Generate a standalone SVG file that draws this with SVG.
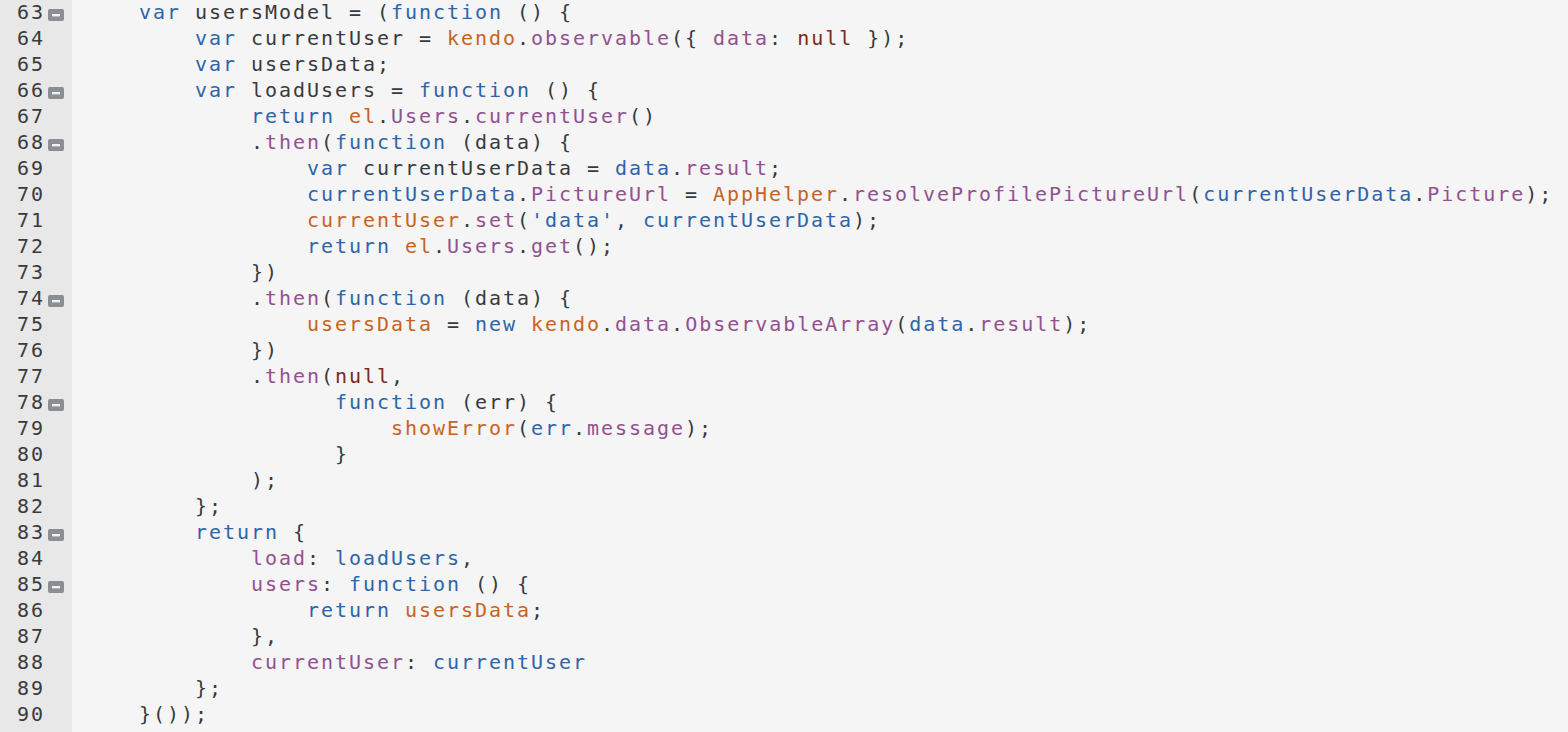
<svg xmlns="http://www.w3.org/2000/svg" width="1568" height="732" viewBox="0 0 1568 732">
<style>
text{font-family:"DejaVu Sans Mono","Liberation Mono",monospace;font-size:20px;letter-spacing:1.96px;fill:#353b40;white-space:pre}
.k{fill:#2e64a8}
.p{fill:#93508f}
.o{fill:#c8631f}
.n{fill:#7b2a1c}
.ln{fill:#3a3a3a}
.fold{fill:#8b8e92}
.minus{fill:#f0f0f0}
</style>
<defs>
<g id="foldicon"><rect class="fold" x="0" y="0" width="16" height="12" rx="2"/><rect class="minus" x="4" y="5" width="8" height="2.4"/></g>
</defs>
<rect x="0" y="0" width="1568" height="732" fill="#f5f5f5"/>
<g id="gutter">
<rect x="0" y="0" width="72" height="732" fill="#e8e8e8"/>
<text class="ln" x="17" y="18.5">63</text>
<text class="ln" x="17" y="44.5">64</text>
<text class="ln" x="17" y="70.5">65</text>
<text class="ln" x="17" y="96.5">66</text>
<text class="ln" x="17" y="122.5">67</text>
<text class="ln" x="17" y="148.5">68</text>
<text class="ln" x="17" y="174.5">69</text>
<text class="ln" x="17" y="200.5">70</text>
<text class="ln" x="17" y="226.5">71</text>
<text class="ln" x="17" y="252.5">72</text>
<text class="ln" x="17" y="278.5">73</text>
<text class="ln" x="17" y="304.5">74</text>
<text class="ln" x="17" y="330.5">75</text>
<text class="ln" x="17" y="356.5">76</text>
<text class="ln" x="17" y="382.5">77</text>
<text class="ln" x="17" y="408.5">78</text>
<text class="ln" x="17" y="434.5">79</text>
<text class="ln" x="17" y="460.5">80</text>
<text class="ln" x="17" y="486.5">81</text>
<text class="ln" x="17" y="512.5">82</text>
<text class="ln" x="17" y="538.5">83</text>
<text class="ln" x="17" y="564.5">84</text>
<text class="ln" x="17" y="590.5">85</text>
<text class="ln" x="17" y="616.5">86</text>
<text class="ln" x="17" y="642.5">87</text>
<text class="ln" x="17" y="668.5">88</text>
<text class="ln" x="17" y="694.5">89</text>
<text class="ln" x="17" y="720.5">90</text>
<use href="#foldicon" x="48" y="9"/>
<use href="#foldicon" x="48" y="87"/>
<use href="#foldicon" x="48" y="139"/>
<use href="#foldicon" x="48" y="295"/>
<use href="#foldicon" x="48" y="399"/>
<use href="#foldicon" x="48" y="529"/>
<use href="#foldicon" x="48" y="581"/>
</g>
<g id="code">
<text x="139" y="18.5"><tspan class="k">var</tspan> usersModel = (<tspan class="k">function</tspan> () {</text>
<text x="195" y="44.5"><tspan class="k">var</tspan> currentUser = <tspan class="o">kendo</tspan>.<tspan class="p">observable</tspan>({ <tspan class="p">data</tspan>: <tspan class="n">null</tspan> });</text>
<text x="195" y="70.5"><tspan class="k">var</tspan> usersData;</text>
<text x="195" y="96.5"><tspan class="k">var</tspan> loadUsers = <tspan class="k">function</tspan> () {</text>
<text x="251" y="122.5"><tspan class="k">return</tspan> <tspan class="o">el</tspan>.<tspan class="p">Users</tspan>.<tspan class="p">currentUser</tspan>()</text>
<text x="251" y="148.5">.<tspan class="p">then</tspan>(<tspan class="k">function</tspan> (data) {</text>
<text x="307" y="174.5"><tspan class="k">var</tspan> currentUserData = <tspan class="k">data</tspan>.<tspan class="p">result</tspan>;</text>
<text x="307" y="200.5"><tspan class="k">currentUserData</tspan>.<tspan class="p">PictureUrl</tspan> = <tspan class="o">AppHelper</tspan>.<tspan class="p">resolveProfilePictureUrl</tspan>(<tspan class="k">currentUserData</tspan>.<tspan class="p">Picture</tspan>);</text>
<text x="307" y="226.5"><tspan class="o">currentUser</tspan>.<tspan class="p">set</tspan>(<tspan class="k">'data'</tspan>, <tspan class="k">currentUserData</tspan>);</text>
<text x="307" y="252.5"><tspan class="k">return</tspan> <tspan class="o">el</tspan>.<tspan class="p">Users</tspan>.<tspan class="p">get</tspan>();</text>
<text x="251" y="278.5">})</text>
<text x="251" y="304.5">.<tspan class="p">then</tspan>(<tspan class="k">function</tspan> (data) {</text>
<text x="307" y="330.5"><tspan class="o">usersData</tspan> = <tspan class="k">new</tspan> <tspan class="o">kendo</tspan>.<tspan class="p">data</tspan>.<tspan class="p">ObservableArray</tspan>(<tspan class="k">data</tspan>.<tspan class="p">result</tspan>);</text>
<text x="251" y="356.5">})</text>
<text x="251" y="382.5">.<tspan class="p">then</tspan>(<tspan class="n">null</tspan>,</text>
<text x="335" y="408.5"><tspan class="k">function</tspan> (err) {</text>
<text x="391" y="434.5"><tspan class="o">showError</tspan>(<tspan class="k">err</tspan>.<tspan class="p">message</tspan>);</text>
<text x="335" y="460.5">}</text>
<text x="251" y="486.5">);</text>
<text x="195" y="512.5">};</text>
<text x="195" y="538.5"><tspan class="k">return</tspan> {</text>
<text x="251" y="564.5"><tspan class="p">load</tspan>: <tspan class="k">loadUsers</tspan>,</text>
<text x="251" y="590.5"><tspan class="p">users</tspan>: <tspan class="k">function</tspan> () {</text>
<text x="307" y="616.5"><tspan class="k">return</tspan> <tspan class="o">usersData</tspan>;</text>
<text x="251" y="642.5">},</text>
<text x="251" y="668.5"><tspan class="p">currentUser</tspan>: <tspan class="k">currentUser</tspan></text>
<text x="195" y="694.5">};</text>
<text x="139" y="720.5">}());</text>
</g>
</svg>
